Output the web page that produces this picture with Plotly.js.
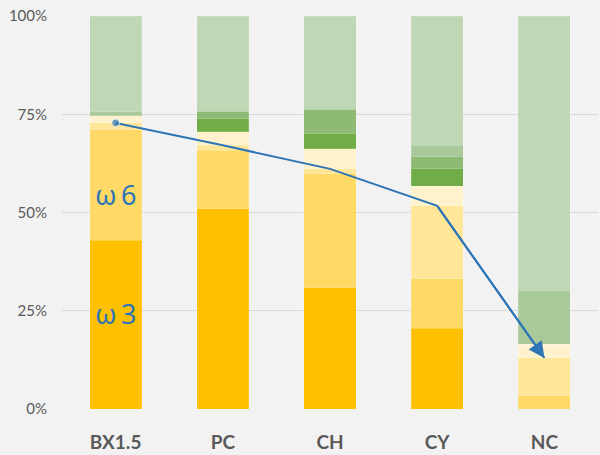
<!DOCTYPE html>
<html>
<head>
<meta charset="utf-8">
<script src="https://cdn.plot.ly/plotly-3.0.1.min.js"></script>
<style>html,body{margin:0;padding:0;background:#F2F2F2;}</style>
</head>
<body>
<div id="chart" style="width:600px;height:455px;"></div>
<script>
// Categories
const categories = ["BX1.5", "PC", "CH", "CY", "NC"];

// Stacked segments (percent of total), bottom to top
const omega3      = [43.0, 50.9, 30.9, 20.6, 0.0];
const omega6      = [28.0, 15.0, 29.0, 12.5, 3.4];
const otherPufa   = [1.8, 1.2, 1.2, 18.6, 9.6];
const creamSeg    = [1.8, 3.5, 5.1, 5.0, 3.5];
const darkGreen   = [0.0, 3.2, 3.9, 4.4, 0.0];
const midGreen    = [0.0, 2.0, 6.2, 3.1, 0.0];
const softGreen   = [1.1, 0.0, 0.0, 2.9, 13.6];
const lightGreen  = [24.3, 24.2, 23.7, 32.9, 69.9];

// Trend line values (percent)
const lineVals = [72.8, 67.1, 61.1, 51.7, 13.0];

// Axis ticks
const yTickVals = [0, 25, 50, 75, 100];
const yTickText = ["0%", "25%", "50%", "75%", "100%"];

const segs = [
  {name: "ω3", y: omega3, color: "#FFC000"},
  {name: "ω6", y: omega6, color: "#FFD966"},
  {name: "other", y: otherPufa, color: "#FFE699"},
  {name: "cream", y: creamSeg, color: "#FFF2CC"},
  {name: "g1", y: darkGreen, color: "#70AD47"},
  {name: "g2", y: midGreen, color: "#8FBA74"},
  {name: "g3", y: softGreen, color: "#A9C99B"},
  {name: "g4", y: lightGreen, color: "#BFD7B5"}
];

const traces = segs.map(s => ({
  type: "bar",
  x: categories,
  y: s.y,
  name: s.name,
  marker: {color: s.color, line: {color: "rgba(255,255,255,0.15)", width: 1}},
  hoverinfo: "x+y+name"
}));

const n = lineVals.length;
traces.push({
  type: "scatter",
  mode: "lines+markers",
  x: categories,
  y: lineVals,
  line: {color: "#2E75B6", width: 2},
  marker: {
    color: "#2E75B6",
    size: lineVals.map((v, i) => i === 0 ? 8 : 0)
  },
  showlegend: false
});

const omegaFont = {family: "'Noto Sans', 'DejaVu Sans', sans-serif", size: 27, color: "#2E75B6"};

const layout = {
  width: 600,
  height: 455,
  paper_bgcolor: "#F2F2F2",
  plot_bgcolor: "#F2F2F2",
  margin: {l: 62, r: 2, t: 16, b: 46},
  barmode: "stack",
  bargap: 0.514,
  showlegend: false,
  xaxis: {
    type: "category",
    showgrid: false,
    zeroline: false,
    showline: false,
    ticks: "",
    ticklabelstandoff: 20,
    tickfont: {family: "Lato, 'Open Sans', sans-serif", size: 19, color: "#595959", weight: "bold"}
  },
  yaxis: {
    range: [0, 100],
    tickvals: yTickVals,
    ticktext: yTickText,
    showgrid: true,
    gridcolor: "#D9D9D9",
    gridwidth: 1,
    zeroline: false,
    showline: false,
    ticks: "",
    ticklabelstandoff: 14,
    tickfont: {family: "Lato, 'Open Sans', sans-serif", size: 15, color: "#595959"}
  },
  annotations: [
    {x: categories[0], y: 54.5, xref: "x", yref: "y", text: "ω\u20096", showarrow: false, font: omegaFont},
    {x: categories[0], y: 24.4, xref: "x", yref: "y", text: "ω\u20093", showarrow: false, font: omegaFont},
    {x: categories[n - 1], y: lineVals[n - 1], xref: "x", yref: "y",
     ax: categories[n - 2], ay: lineVals[n - 2], axref: "x", ayref: "y",
     text: "", showarrow: true, arrowhead: 2, arrowsize: 1.6, arrowwidth: 2, arrowcolor: "#2E75B6"}
  ]
};

Plotly.newPlot("chart", traces, layout, {displayModeBar: false, staticPlot: true});
</script>
</body>
</html>
